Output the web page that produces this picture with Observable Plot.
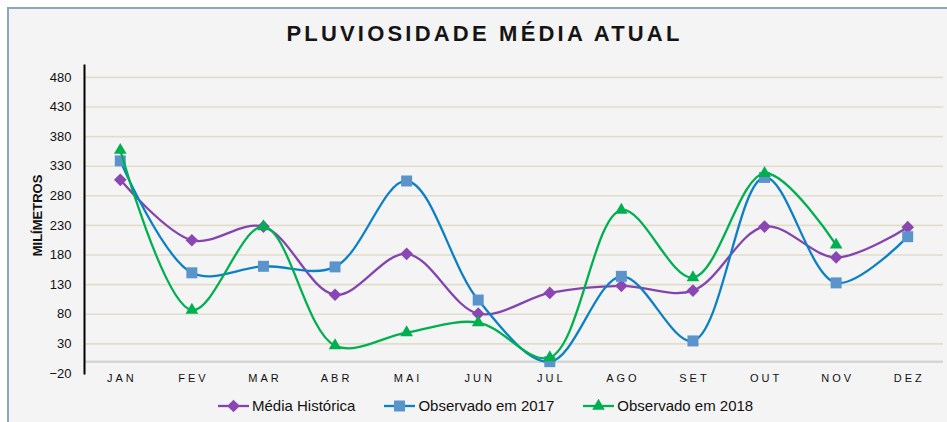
<!DOCTYPE html>
<html>
<head>
<meta charset="utf-8">
<script src="https://cdn.jsdelivr.net/npm/d3@7"></script>
<script src="https://cdn.jsdelivr.net/npm/@observablehq/plot@0.6"></script>
<style>
  html, body { margin: 0; padding: 0; background: #ffffff; }
  body { width: 947px; height: 422px; position: relative; overflow: hidden; font-family: "Liberation Sans", Arial, sans-serif; }
  #frame { position: absolute; left: 7px; top: 7px; right: 0; bottom: 0; background: #f4f4f4;
           border-left: 2px solid #8ca6c2; border-top: 2px solid #8ca6c2; }
  #title { position: absolute; left: 0; top: 20px; width: 947px; padding-left: 22px; box-sizing: border-box;
           text-align: center; font-size: 22px; font-weight: bold; letter-spacing: 3.2px; color: #151515; line-height: 28px; }
  #chart { position: absolute; left: 0; top: 60px; }
  #legend { position: absolute; left: 218px; top: 396px; display: flex; align-items: center;
            font-size: 15px; color: #111; line-height: 20px; }
  .item { display: flex; align-items: center; margin-right: 29px; }
  .item svg { margin-right: 3px; }
</style>
</head>
<body>
<div id="frame"></div>
<div id="title">PLUVIOSIDADE MÉDIA ATUAL</div>
<div id="chart"></div>
<div id="legend"></div>
<script>
const months = ["JAN","FEV","MAR","ABR","MAI","JUN","JUL","AGO","SET","OUT","NOV","DEZ"];
const mediaHistorica = [307, 205, 228, 113, 182, 81, 116, 128, 120, 228, 176, 227];
const observado2017 = [339, 150, 161, 160, 305, 104, 0, 144, 35, 311, 133, 211];
const observado2018 = [357, 87, 228, 27, 49, 66, 7, 256, 142, 318, 197, null];
const yTicks = [-20, 30, 80, 130, 180, 230, 280, 330, 380, 430, 480];
const seriesNames = ["Média Histórica", "Observado em 2017", "Observado em 2018"];

const colors = {
  "Média Histórica": {line: "#8444b0", mark: "#8a47b4", symbol: "diamond2", r: 5.7},
  "Observado em 2017": {line: "#0c80c6", mark: "#5a94cb", symbol: "square", r: 6.2},
  "Observado em 2018": {line: "#00b050", mark: "#00b050", symbol: "triangle", r: 4.7}
};

function rows(name, values) {
  return months.map((m, i) => ({month: m, value: values[i], series: name}))
               .filter(d => d.value != null);
}
const data = [
  rows(seriesNames[0], mediaHistorica),
  rows(seriesNames[1], observado2017),
  rows(seriesNames[2], observado2018)
];

const seriesMarks = [];
data.forEach((d, i) => {
  const c = colors[seriesNames[i]];
  seriesMarks.push(Plot.line(d, {x: "month", y: "value", stroke: c.line, strokeWidth: 2.3, curve: "catmull-rom"}));
  seriesMarks.push(Plot.dot(d, {x: "month", y: "value", symbol: c.symbol, r: c.r, fill: c.mark, stroke: "none"}));
});

const plot = Plot.plot({
  width: 947,
  height: 330,
  marginTop: 5,
  marginBottom: 17,
  marginLeft: 84,
  marginRight: 4,
  style: {background: "transparent", fontFamily: "'Liberation Sans', Arial, sans-serif", color: "#111", overflow: "visible"},
  x: {type: "point", domain: months, padding: 0.5, round: false, axis: null},
  y: {domain: [-20, 500], axis: null},
  marks: [
    Plot.ruleY(yTicks.filter(t => t > 0), {stroke: "#e2ddcb", strokeWidth: 1.6}),
    Plot.ruleY([0], {stroke: "#d6d6d6", strokeWidth: 2.5}),
    Plot.frame({anchor: "left", stroke: "#000", strokeWidth: 2}),
    Plot.axisY({ticks: yTicks, tickSize: 0, tickPadding: 13, fontSize: 13, label: null}),
    Plot.text(months, {x: d => d, frameAnchor: "bottom", lineAnchor: "top", dy: 1, dx: 1.5, fontSize: 11, fill: "#111"}),
    Plot.text(["MILÍMETROS"], {frameAnchor: "left", textAnchor: "middle", rotate: -90, dx: -47, dy: -4, fontSize: 13, fontWeight: "bold", fill: "#111"}),
    ...seriesMarks
  ]
});
// spaced month labels
d3.select(plot).selectAll("text").filter(function() { return months.includes(this.textContent); })
  .attr("letter-spacing", "3px");
document.getElementById("chart").appendChild(plot);

// Legend
const legend = document.getElementById("legend");
seriesNames.forEach(name => {
  const c = colors[name];
  const item = document.createElement("div");
  item.className = "item";
  const sym = d3.symbol().type({diamond2: d3.symbolDiamond2, square: d3.symbolSquare, triangle: d3.symbolTriangle}[c.symbol])
                .size(c.r * c.r * Math.PI)();
  item.innerHTML = `<svg width="31" height="14" viewBox="0 0 31 14">
      <line x1="0" x2="31" y1="7" y2="7" stroke="${c.line}" stroke-width="2.3"></line>
      <path d="${sym}" transform="translate(15.5,7)" fill="${c.mark}"></path>
    </svg><span>${name}</span>`;
  legend.appendChild(item);
});
</script>
</body>
</html>
